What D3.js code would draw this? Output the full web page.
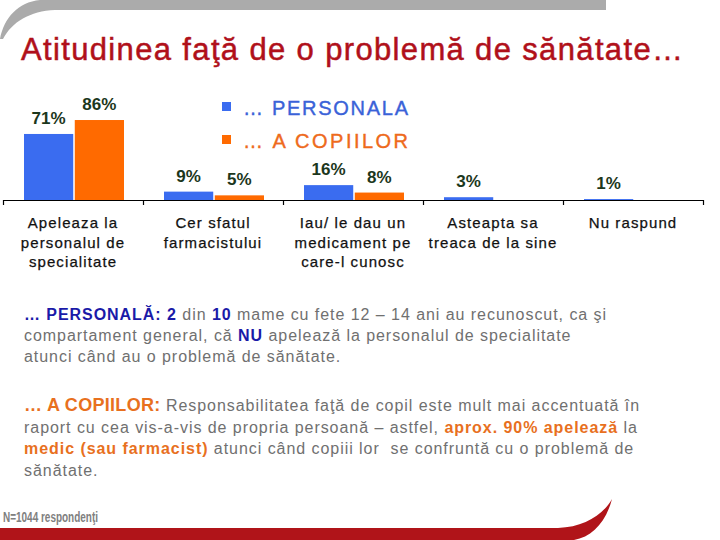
<!DOCTYPE html>
<html><head><meta charset="utf-8">
<script src="https://cdn.jsdelivr.net/npm/d3@7"></script>
<style>
html,body{margin:0;padding:0;background:#fff;}
svg{display:block;font-family:"Liberation Sans",Arial,sans-serif;}
</style></head>
<body>
<script>
// ---- data ----
const categories = [
  ["Apeleaza la","personalul de","specialitate"],
  ["Cer sfatul","farmacistului"],
  ["Iau/ le dau un","medicament pe","care-l cunosc"],
  ["Asteapta sa","treaca de la sine"],
  ["Nu raspund"]
];
const seriesNames = ["… PERSONALA","… A COPIILOR"];
const personala = [71, 9, 16, 3, 1];
const copiilor = [86, 5, 8, null, null];
const titleText = "Atitudinea faţă de o problemă de sănătate…";
const footnote = "N=1044 respondenţi";

const W = 720, H = 540;
const svg = d3.select("body").append("svg").attr("width", W).attr("height", H);

const blue = "#3a6cf0", orange = "#ff6a00";
const labelColor = "#1c371c";

// decorations
svg.append("path")
  .attr("d","M0,39 C4,18 18,2 40,0 L606,0 L606,10 L55,10 C30,11 12,22 3,39 Z")
  .attr("fill","#ababab");
svg.append("path")
  .attr("d","M0,528 L558,528 C584,527 603,515 612,499 C606,522 592,537 574,540 L0,540 Z")
  .attr("fill","#b01419");

// title
svg.append("text").attr("x",21).attr("y",60)
  .attr("font-size",31).attr("fill","#b0101a")
  .attr("stroke","#b0101a").attr("stroke-width",0.5)
  .attr("textLength",662).attr("lengthAdjust","spacing")
  .text(titleText);

// scales
const x0 = d3.scaleBand().domain(d3.range(categories.length)).range([3,703]).padding(0);
const x1 = d3.scaleBand().domain([0,1]).range([21,121]).paddingInner(0.03);
const y = d3.scaleLinear().domain([0,100]).range([200,107]);

const data = [personala, copiilor];
const colors = [blue, orange];

data.forEach((vals, s) => {
  const g = svg.append("g");
  vals.forEach((v, i) => {
    if (v == null) return;
    g.append("rect")
      .attr("x", x0(i) + x1(s))
      .attr("y", y(v))
      .attr("width", x1.bandwidth())
      .attr("height", y(0) - y(v))
      .attr("fill", colors[s]);
    g.append("text")
      .attr("x", x0(i) + x1(s) + x1.bandwidth()/2)
      .attr("y", y(v) - 10)
      .attr("text-anchor","middle")
      .attr("font-size",17).attr("font-weight","bold")
      .attr("fill", labelColor)
      .text(v + "%");
  });
});

// axis
const xb = d3.scaleLinear().domain([0, categories.length]).range([3,703]);
const axis = svg.append("g").attr("transform","translate(0,200)")
  .call(d3.axisBottom(xb).ticks(categories.length).tickSize(5).tickSizeOuter(0).tickFormat(""));
axis.select(".domain").attr("stroke","#000").attr("stroke-width",1.2);
axis.selectAll(".tick line").attr("stroke","#000").attr("stroke-width",1.2);

// category labels
categories.forEach((lines, i) => {
  const t = svg.append("text")
    .attr("text-anchor","middle")
    .attr("font-size",15).attr("fill","#111")
    .attr("stroke","#111").attr("stroke-width",0.25)
    .attr("letter-spacing","1.1px");
  lines.forEach((ln, j) => {
    t.append("tspan").attr("x", x0(i) + x0.bandwidth()/2).attr("y", 228 + j*19.5).text(ln);
  });
});

// legend
const legY = [115, 148];
seriesNames.forEach((n, s) => {
  svg.append("rect").attr("x",222).attr("y",legY[s]-13).attr("width",9).attr("height",9).attr("fill",colors[s]);
  svg.append("text").attr("x",243).attr("y",legY[s])
    .attr("font-size",20).attr("fill", s===0 ? "#3a62d8" : "#ee6a1c")
    .attr("stroke", s===0 ? "#3a62d8" : "#ee6a1c").attr("stroke-width",0.4)
    .attr("textLength",165).attr("lengthAdjust","spacing")
    .text(n);
});

// paragraphs
const gray = "#707070", dblue = "#1a1aa8", orn = "#e8701e";
function para(lines, y0, lh) {
  lines.forEach((segs, j) => {
    const t = svg.append("text").attr("x",24).attr("y", y0 + j*lh)
      .attr("font-size",16).attr("letter-spacing","0.95px").attr("fill",gray);
    segs.forEach(sg => {
      const ts = t.append("tspan").text(sg[0]).style("white-space","pre");
      if (sg[1]) ts.attr("font-weight","bold").attr("fill", sg[1]);
      if (sg[2]) ts.attr("font-size", sg[2]).attr("letter-spacing","0.3px");
    });
  });
}
para([
  [["… PERSONALĂ:", dblue],[" "],["2", dblue],[" din "],["10", dblue],[" mame cu fete 12 – 14 ani au recunoscut, ca şi"]],
  [["compartament general, că "],["NU", dblue],[" apelează la personalul de specialitate"]],
  [["atunci când au o problemă de sănătate."]]
], 320, 21);
para([
  [["… A COPIILOR:", orn, 18],[" Responsabilitatea faţă de copil este mult mai accentuată în"]],
  [["raport cu cea vis-a-vis de propria persoană – astfel, "],["aprox. 90% apelează", orn],[" la"]],
  [["medic (sau farmacist)", orn],[" atunci când copiii lor  se confruntă cu o problemă de"]],
  [["sănătate."]]
], 411, 21.5);

// footnote
svg.append("text").attr("x",3).attr("y",522)
  .attr("font-size",14).attr("font-weight","bold").attr("fill","#808080")
  .attr("textLength",95).attr("lengthAdjust","spacingAndGlyphs")
  .text(footnote);
</script>
</body></html>
